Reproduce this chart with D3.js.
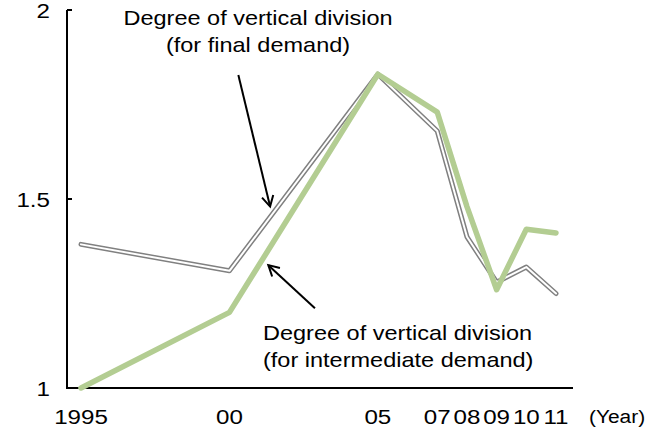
<!DOCTYPE html>
<html><head><meta charset="utf-8">
<script src="https://cdn.jsdelivr.net/npm/d3@7"></script>
<style>
html,body{margin:0;padding:0;background:#fff;}
text{font-family:"Liberation Sans",Arial,sans-serif;fill:#000;}
</style></head>
<body><svg id="c" width="646" height="432"></svg>
<script>
const years = [1995, 2000, 2005, 2007, 2008, 2009, 2010, 2011];
const yearLabels = ["1995", "00", "05", "07", "08", "09", "10", "11"];
const finalDemand = [1.38, 1.31, 1.83, 1.68, 1.40, 1.28, 1.32, 1.25];
const intermediateDemand = [1.00, 1.20, 1.83, 1.73, 1.48, 1.26, 1.42, 1.41];
const yTicks = [1, 1.5, 2];
const yTickLabels = ["1", "1.5", "2"];
const annFinal = ["Degree of vertical division", "(for final demand)"];
const annInter = ["Degree of vertical division", "(for intermediate demand)"];
// arrows in data coordinates: [year, value] tail -> tip
const arrowFinal = [[2000.30, 1.828], [2001.37, 1.48]];
const arrowInter = [[2002.88, 1.211], [2001.31, 1.325]];

const svg = d3.select("#c");
const x = d3.scaleLinear().domain([1995, 2011]).range([81, 556]);
const y = d3.scaleLinear().domain([1, 2]).range([388, 10]);
const axisLeft = 67, axisRight = 573;

function stretchedText(g, tx, ty, str, size, anchor, sx) {
  return g.append("text")
    .attr("transform", `translate(${tx},${ty}) scale(${sx || 1.12},1)`)
    .attr("font-size", size)
    .attr("text-anchor", anchor || "start")
    .text(str);
}

// axes
svg.append("line").attr("x1", axisLeft).attr("x2", axisLeft)
  .attr("y1", y(2)).attr("y2", y(1)).attr("stroke", "#000").attr("stroke-width", 2);
svg.append("line").attr("x1", axisLeft - 1).attr("x2", axisRight)
  .attr("y1", y(1)).attr("y2", y(1)).attr("stroke", "#000").attr("stroke-width", 2);
yTicks.forEach((v, i) => {
  svg.append("line").attr("x1", axisLeft).attr("x2", axisLeft + 5)
    .attr("y1", y(v)).attr("y2", y(v)).attr("stroke", "#000").attr("stroke-width", 2);
  stretchedText(svg, 50, y(v) + 7.5, yTickLabels[i], 21, "end", 1.15);
});
years.forEach((yr, i) => {
  stretchedText(svg, x(yr), 424, yearLabels[i], 21, "middle", 1.15);
});
stretchedText(svg, 589, 423, "(Year)", 19, "start", 1.1);

// lines
const line = d3.line().x((d, i) => x(years[i])).y(d => y(d));
svg.append("path").attr("d", line(finalDemand)).attr("fill", "none")
  .attr("stroke", "#808080").attr("stroke-width", 5)
  .attr("stroke-linejoin", "round").attr("stroke-linecap", "round");
svg.append("path").attr("d", line(finalDemand)).attr("fill", "none")
  .attr("stroke", "#fff").attr("stroke-width", 2)
  .attr("stroke-linejoin", "round").attr("stroke-linecap", "round");
svg.append("path").attr("d", line(intermediateDemand)).attr("fill", "none")
  .attr("stroke", "#b3cd92").attr("stroke-width", 5.5)
  .attr("stroke-linejoin", "round").attr("stroke-linecap", "round");

// arrows
function arrow(a) {
  const [x1, y1] = [x(a[0][0]), y(a[0][1])];
  const [x2, y2] = [x(a[1][0]), y(a[1][1])];
  const ang = Math.atan2(y2 - y1, x2 - x1);
  const L = 12, w = 0.5;
  svg.append("line").attr("x1", x1).attr("y1", y1).attr("x2", x2).attr("y2", y2)
    .attr("stroke", "#000").attr("stroke-width", 2);
  const p = d3.path();
  p.moveTo(x2 - L * Math.cos(ang - w), y2 - L * Math.sin(ang - w));
  p.lineTo(x2, y2);
  p.lineTo(x2 - L * Math.cos(ang + w), y2 - L * Math.sin(ang + w));
  svg.append("path").attr("d", p.toString()).attr("fill", "none")
    .attr("stroke", "#000").attr("stroke-width", 2).attr("stroke-linejoin", "miter");
}
arrow(arrowFinal);
arrow(arrowInter);

// annotations
stretchedText(svg, 258, 25, annFinal[0], 21, "middle");
stretchedText(svg, 258, 52, annFinal[1], 21, "middle");
stretchedText(svg, 263, 340, annInter[0], 21, "start");
stretchedText(svg, 263, 367, annInter[1], 21, "start");
</script></body></html>
